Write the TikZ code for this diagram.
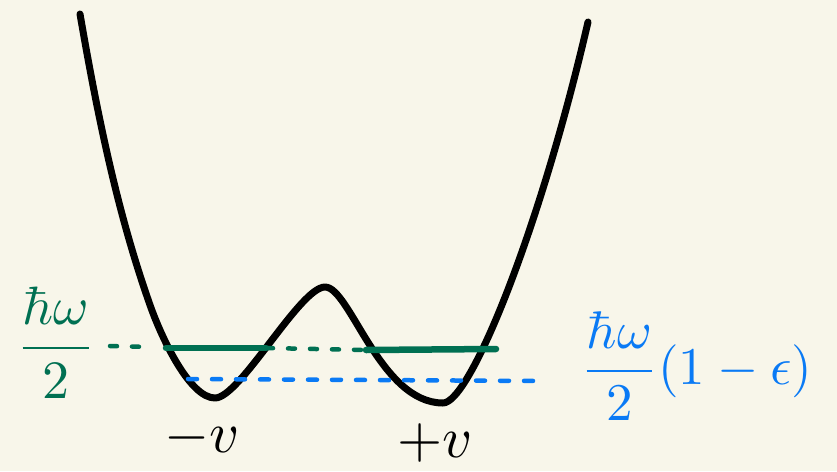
\documentclass[tikz,border=0pt]{standalone}
\usepackage{amsmath}
\definecolor{bg}{RGB}{248,246,234}
\definecolor{wellgreen}{RGB}{0,112,82}
\definecolor{wellblue}{RGB}{10,122,245}
\begin{document}
\begin{tikzpicture}[x=1pt,y=-1pt,
  curve/.style={line width=7pt,line cap=round,line join=round},
  greenline/.style={wellgreen,line width=6.5pt,line cap=round},
  greendash/.style={wellgreen,line width=4.5pt,line cap=round,dash pattern=on 7pt off 15pt},
  bluedash/.style={wellblue,line width=4.5pt,line cap=round,dash pattern=on 9pt off 15pt},
  lab/.style={inner sep=0pt}]
\fill[bg] (0,0) rectangle (837,471);
\useasboundingbox (0,0) rectangle (837,471);
% potential curve
\draw[curve] (80,14) .. controls (100,130) and (120,220) .. (150,305)
  .. controls (162,339) and (190,398) .. (215,398)
  .. controls (240,398) and (300,287) .. (325,287)
  .. controls (350,287) and (380,403) .. (443,403)
  .. controls (470,403) and (540,230) .. (588,22);
% levels
\coordinate (gA) at (110,346);
\coordinate (gB) at (150,347);
\coordinate (gL) at (166,348);
\coordinate (gM) at (266,348);
\coordinate (gN) at (366,350);
\coordinate (gR) at (496,349);
\coordinate (bL) at (188,379);
\coordinate (bR) at (545,381);
\draw[greendash] (gA) -- (gB);
\draw[greenline] (gL) -- (gM);
\draw[greendash] (gM) -- (gN);
\draw[greenline] (gN) -- (gR);
\draw[bluedash] (bL) -- (bR);
% labels
\node[lab,text=wellgreen] (lg) at (56,343) {\scalebox{5.4}{$\displaystyle\frac{\hbar\omega}{2}$}};
\node[lab,text=wellblue,anchor=west] (lb) at (580,366) {\scalebox{5.3}{$\displaystyle\frac{\hbar\omega}{2}(1-\epsilon)$}};
\node[lab] (lm) at (202,438) {\scalebox{5.8}{$-v$}};
\node[lab] (lp) at (435,443) {\scalebox{5.8}{$+v$}};
\end{tikzpicture}
\end{document}
